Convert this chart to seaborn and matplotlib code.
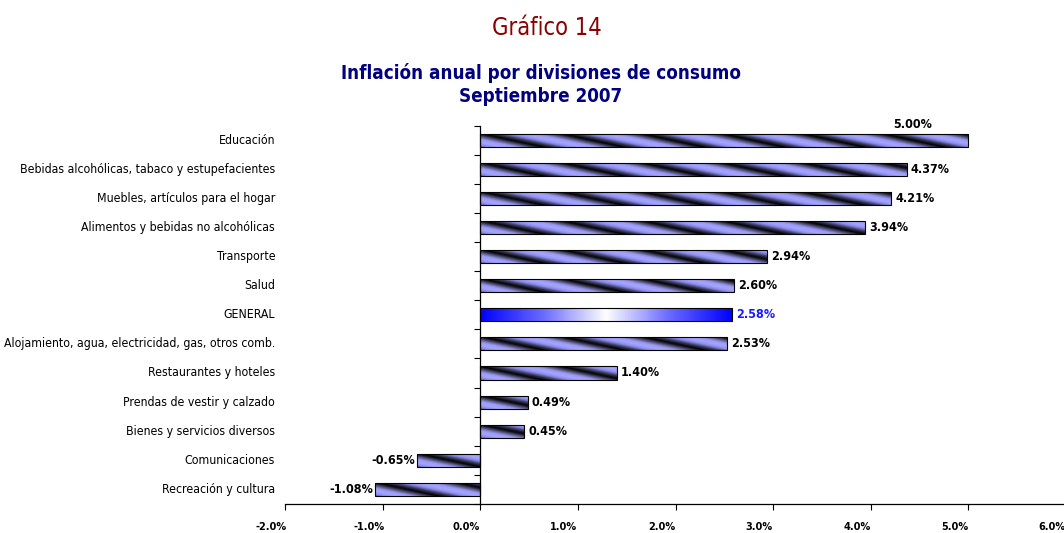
import numpy as np
import pandas as pd
import matplotlib
matplotlib.use("Agg")
import matplotlib.pyplot as plt
from matplotlib.colors import LinearSegmentedColormap
from matplotlib.ticker import FixedLocator, FuncFormatter
from matplotlib.transforms import ScaledTranslation
import seaborn as sns

categories = [
    "Educación",
    "Bebidas alcohólicas, tabaco y estupefacientes",
    "Muebles, artículos para el hogar",
    "Alimentos y bebidas no alcohólicas",
    "Transporte",
    "Salud",
    "GENERAL",
    "Alojamiento, agua, electricidad, gas, otros comb.",
    "Restaurantes y hoteles",
    "Prendas de vestir y calzado",
    "Bienes y servicios diversos",
    "Comunicaciones",
    "Recreación y cultura",
]
values = [5.00, 4.37, 4.21, 3.94, 2.94, 2.60, 2.58, 2.53, 1.40, 0.49, 0.45, -0.65, -1.08]
x_ticks = [-2, -1, 0, 1, 2, 3, 4, 5, 6]

title = "Gráfico 14"
subtitle = "Inflación anual por divisiones de consumo\nSeptiembre 2007"

sns.set_theme(style="white")
plt.rcParams["font.family"] = ["DejaVu Sans"]
plt.rcParams["font.stretch"] = "condensed"
plt.rcParams["text.color"] = "black"

df = pd.DataFrame({"cat": categories, "val": values})

fig = plt.figure(figsize=(10.64, 5.33), dpi=100)
ax = fig.add_axes([285 / 1064, 1 - 504 / 533, (1066 - 285) / 1064, (504 - 125.5) / 533])

sns.barplot(data=df, x="val", y="cat", orient="h", ax=ax, color="#9999ff",
            width=0.45, edgecolor="black", linewidth=0.8)

ax.set_xlim(-2, 6)
ax.set_ylim(len(categories) - 0.5, -0.5)

stripe_cmap = LinearSegmentedColormap.from_list(
    "stripe", ["#000000", "#3a3a5a", "#8c8cf0", "#a6a6ff", "#9a9af5", "#50507a", "#000000"])
general_cmap = LinearSegmentedColormap.from_list(
    "gen", ["#0000ff", "#6b6bff", "#ffffff", "#6b6bff", "#0000ff"])

fig.canvas.draw()
for i, patch in enumerate(ax.patches[:len(categories)]):
    bb = patch.get_bbox()
    x0, x1 = min(bb.x0, bb.x1), max(bb.x0, bb.x1)
    y0, y1 = min(bb.y0, bb.y1), max(bb.y0, bb.y1)
    disp = ax.transData.transform([[x0, y0], [x1, y1]])
    wpx = max(int(abs(disp[1, 0] - disp[0, 0])), 2)
    hpx = max(int(abs(disp[1, 1] - disp[0, 1])), 2)
    if categories[i] == "GENERAL":
        img = np.linspace(0, 1, wpx)[None, :].repeat(hpx, axis=0)
        cmap = general_cmap
    else:
        xx, yy = np.meshgrid(np.arange(wpx), np.arange(hpx))
        period = 80.0
        img = ((xx - 5.0 * yy) / period) % 1.0
        cmap = stripe_cmap
    im = ax.imshow(img, extent=(x0, x1, y1, y0), origin="upper", aspect="auto",
                   cmap=cmap, vmin=0, vmax=1, zorder=patch.get_zorder() + 0.1,
                   interpolation="bilinear")
    im.set_clip_path(patch)
    patch.set_facecolor("none")
    patch.set_zorder(patch.get_zorder() + 0.2)

ax.set_xlim(-2, 6)
ax.set_ylim(len(categories) - 0.5, -0.5)

# value labels
for i, (c, v) in enumerate(zip(categories, values)):
    color = "#1a1aff" if c == "GENERAL" else "black"
    label = f"{v:.2f}%"
    if c == "Educación":
        ax.text(v - 0.57, i - 0.55, label, ha="center", va="center", fontsize=9,
                fontweight="bold", color=color)
    elif v >= 0:
        ax.text(v + 0.04, i, label, ha="left", va="center", fontsize=9,
                fontweight="bold", color=color)
    else:
        ax.text(v - 0.02, i, label, ha="right", va="center", fontsize=9,
                fontweight="bold", color=color)

# category labels at left
for i, c in enumerate(categories):
    ax.text(-0.0125, i, c, transform=ax.get_yaxis_transform(), ha="right",
            va="center", fontsize=8.8, color="black")

for s in ["top", "right"]:
    ax.spines[s].set_visible(False)
ax.spines["left"].set_position(("data", 0))
ax.spines["left"].set_color("black")
ax.spines["left"].set_linewidth(0.9)
ax.spines["bottom"].set_color("black")
ax.spines["bottom"].set_linewidth(0.9)

ax.set_yticks([])
ax.yaxis.set_minor_locator(FixedLocator([i - 0.5 for i in range(len(categories) + 1)]))
ax.tick_params(axis="y", which="minor", left=True, length=4, width=0.8,
               direction="out", color="black")
ax.set_ylabel("")
ax.set_xlabel("")

ax.set_xticks(x_ticks)
ax.xaxis.set_major_formatter(FuncFormatter(lambda v, p: f"{v:.1f}%"))
ax.tick_params(axis="x", which="major", bottom=True, length=4, width=0.8,
               direction="out", color="black", labelcolor="black", pad=9, labelsize=7.8)
shift = ScaledTranslation(-0.14, 0, fig.dpi_scale_trans)
for lab in ax.get_xticklabels():
    lab.set_fontweight("bold")
    lab.set_transform(lab.get_transform() + shift)

fig.text(0.514, 0.947, title, ha="center", va="center", fontsize=17, color="#8b0000")
fig.text(0.508, 0.842, subtitle, ha="center", va="center", fontsize=13.5,
         fontweight="bold", color="#000080", linespacing=1.25)

fig.savefig("out.png", dpi=100, facecolor="white")
